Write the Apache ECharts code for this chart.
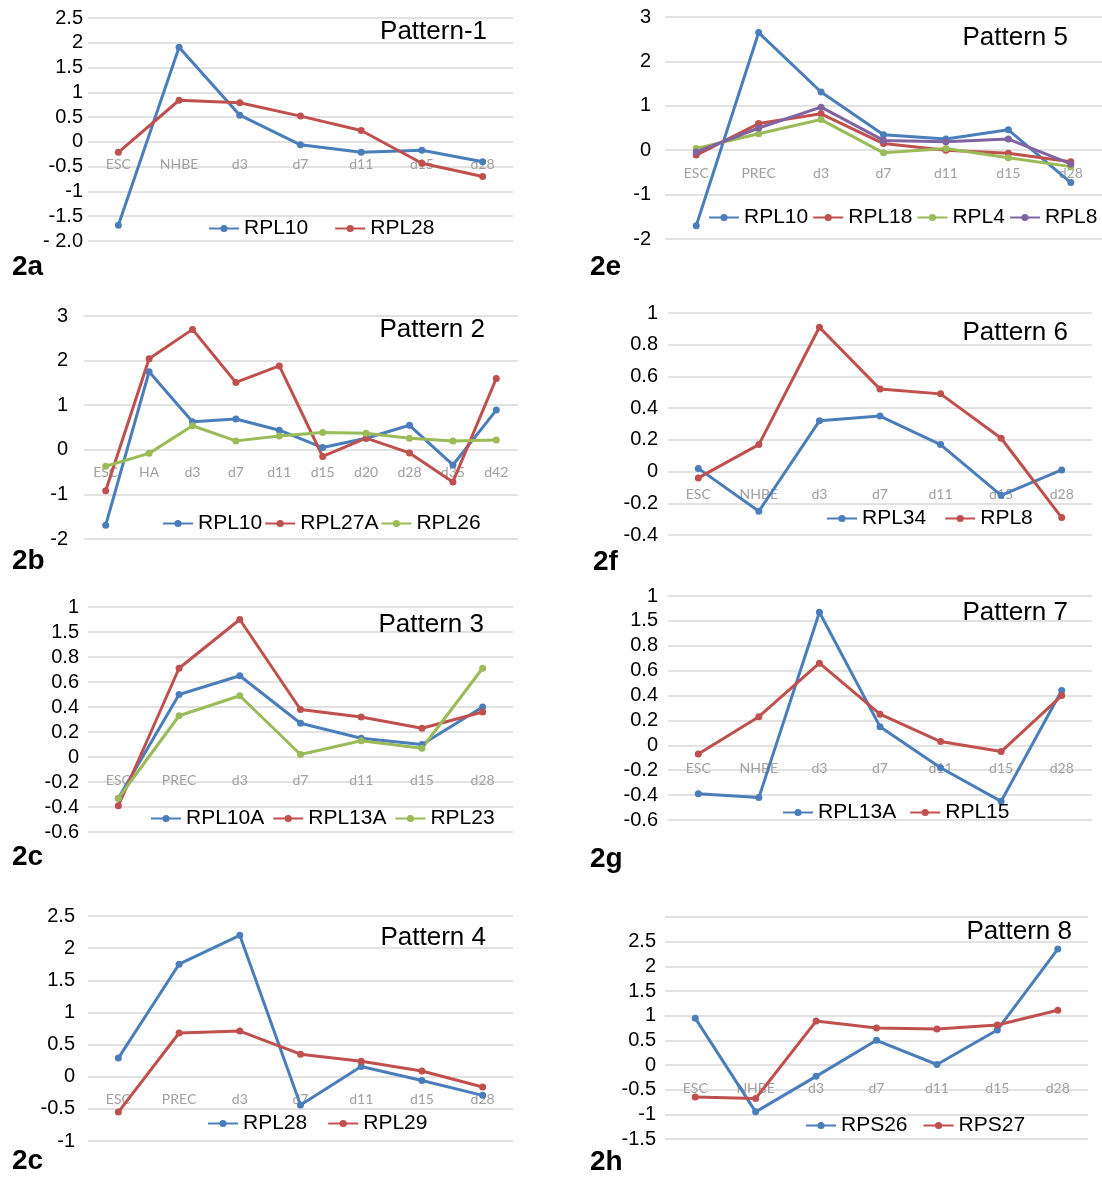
<!DOCTYPE html>
<html>
<head>
<meta charset="utf-8">
<script src="https://cdn.jsdelivr.net/npm/echarts@6/dist/echarts.min.js"></script>
<style>
  html, body { margin: 0; padding: 0; background: #fff; }
  #page { position: relative; width: 1102px; height: 1177px; }
  .panel { position: absolute; }
</style>
</head>
<body>
<div id="page"></div>
<script>
// ---- categories ----
const catsNhbe = ['ESC', 'NHBE', 'd3', 'd7', 'd11', 'd15', 'd28'];
const catsPrec = ['ESC', 'PREC', 'd3', 'd7', 'd11', 'd15', 'd28'];
const catsHa = ['ESC', 'HA', 'd3', 'd7', 'd11', 'd15', 'd20', 'd28', 'd35', 'd42'];

// ---- pattern 1 (2a) ----
const p1Rpl10 = [-1.68, 1.91, 0.54, -0.06, -0.21, -0.17, -0.40];
const p1Rpl28 = [-0.21, 0.84, 0.79, 0.52, 0.23, -0.43, -0.70];
const p1Ticks = ['2.5', '2', '1.5', '1', '0.5', '0', '-0.5', '-1', '-1.5', '- 2.0'];

// ---- pattern 2 (2b) ----
const p2Rpl10 = [-1.69, 1.75, 0.63, 0.69, 0.44, 0.05, 0.26, 0.55, -0.34, 0.89];
const p2Rpl27a = [-0.92, 2.04, 2.70, 1.51, 1.88, -0.15, 0.26, -0.07, -0.72, 1.60];
const p2Rpl26 = [-0.37, -0.08, 0.54, 0.20, 0.31, 0.39, 0.37, 0.26, 0.20, 0.22];
const p2Ticks = ['3', '2', '1', '0', '-1', '-2'];

// ---- pattern 3 (2c) ----
const p3Rpl10a = [-0.33, 0.50, 0.65, 0.27, 0.15, 0.10, 0.40];
const p3Rpl13a = [-0.39, 0.71, 1.10, 0.38, 0.32, 0.23, 0.36];
const p3Rpl23 = [-0.33, 0.33, 0.49, 0.02, 0.13, 0.07, 0.71];
const p3Ticks = ['1', '1.5', '0.8', '0.6', '0.4', '0.2', '0', '-0.2', '-0.4', '-0.6'];

// ---- pattern 4 (2c, lower) ----
const p4Rpl28 = [0.29, 1.75, 2.20, -0.44, 0.16, -0.06, -0.29];
const p4Rpl29 = [-0.55, 0.68, 0.71, 0.35, 0.24, 0.09, -0.16];
const p4Ticks = ['2.5', '2', '1.5', '1', '0.5', '0', '-0.5', '-1'];

// ---- pattern 5 (2e) ----
const p5Rpl10 = [-1.70, 2.65, 1.31, 0.35, 0.25, 0.46, -0.73];
const p5Rpl18 = [-0.11, 0.60, 0.82, 0.15, 0.00, -0.07, -0.26];
const p5Rpl4 = [0.04, 0.37, 0.69, -0.06, 0.04, -0.17, -0.37];
const p5Rpl8 = [-0.04, 0.50, 0.97, 0.22, 0.19, 0.25, -0.31];
const p5Ticks = ['3', '2', '1', '0', '-1', '-2'];

// ---- pattern 6 (2f) ----
const p6Rpl34 = [0.02, -0.25, 0.32, 0.35, 0.17, -0.15, 0.01];
const p6Rpl8 = [-0.04, 0.17, 0.91, 0.52, 0.49, 0.21, -0.29];
const p6Ticks = ['1', '0.8', '0.6', '0.4', '0.2', '0', '-0.2', '-0.4'];

// ---- pattern 7 (2g) ----
const p7Rpl13a = [-0.39, -0.42, 1.07, 0.15, -0.18, -0.45, 0.44];
const p7Rpl15 = [-0.07, 0.23, 0.66, 0.25, 0.03, -0.05, 0.40];
const p7Ticks = ['1', '1.5', '0.8', '0.6', '0.4', '0.2', '0', '-0.2', '-0.4', '-0.6'];

// ---- pattern 8 (2h) ----
const p8Rps26 = [0.95, -0.95, -0.23, 0.50, 0.01, 0.71, 2.35];
const p8Rps27 = [-0.65, -0.68, 0.89, 0.75, 0.73, 0.81, 1.11];
const p8Ticks = ['', '2.5', '2', '1.5', '1', '0.5', '0', '-0.5', '-1', '-1.5'];

const BLUE = '#4a7ebb';
const RED = '#c0504d';
const GREEN = '#9bbb59';
const PURPLE = '#8064a2';
const GRID_COLOR = '#e2e2e2';
const FONT = '"Liberation Sans", Arial, sans-serif';

// layout in page pixels: box = [x, y, w, h], plot = [left, top, right, bottom]
const panels = [
  {
    box: [0, 0, 551, 290], plot: [88, 18, 513, 241], min: -2, max: 2.5, step: 0.5,
    ticks: p1Ticks, labelMargin: 5, cats: catsNhbe,
    series: [['RPL10', p1Rpl10, BLUE], ['RPL28', p1Rpl28, RED]],
    title: 'Pattern-1', titleRight: 487, titleY: 31,
    legendX: 208, legendY: 230, legendGap: 26, tag: '2a', tagX: 12, tagY: 268
  },
  {
    box: [551, 0, 551, 290], plot: [665, 17, 1102, 239], min: -2, max: 3, step: 1,
    ticks: p5Ticks, labelMargin: 14, cats: catsPrec,
    series: [['RPL10', p5Rpl10, BLUE], ['RPL18', p5Rpl18, RED], ['RPL4', p5Rpl4, GREEN], ['RPL8', p5Rpl8, PURPLE]],
    title: 'Pattern 5', titleRight: 1068, titleY: 37,
    legendX: 708, legendY: 219, legendGap: 4, tag: '2e', tagX: 590, tagY: 268
  },
  {
    box: [0, 290, 551, 295], plot: [84, 316, 518, 539], min: -2, max: 3, step: 1,
    ticks: p2Ticks, labelMargin: 16, cats: catsHa,
    series: [['RPL10', p2Rpl10, BLUE], ['RPL27A', p2Rpl27a, RED], ['RPL26', p2Rpl26, GREEN]],
    title: 'Pattern 2', titleRight: 485, titleY: 329,
    legendX: 162, legendY: 525, legendGap: 2, tag: '2b', tagX: 12, tagY: 562
  },
  {
    box: [551, 290, 551, 295], plot: [668, 313, 1092, 535], min: -0.4, max: 1, step: 0.2,
    ticks: p6Ticks, labelMargin: 10, cats: catsNhbe,
    series: [['RPL34', p6Rpl34, BLUE], ['RPL8', p6Rpl8, RED]],
    title: 'Pattern 6', titleRight: 1068, titleY: 332,
    legendX: 826, legendY: 520, legendGap: 18, tag: '2f', tagX: 593, tagY: 563
  },
  {
    box: [0, 585, 551, 295], plot: [88, 607, 513, 832], min: -0.6, max: 1.2, step: 0.2,
    ticks: p3Ticks, labelMargin: 9, cats: catsPrec,
    series: [['RPL10A', p3Rpl10a, BLUE], ['RPL13A', p3Rpl13a, RED], ['RPL23', p3Rpl23, GREEN]],
    title: 'Pattern 3', titleRight: 484, titleY: 624,
    legendX: 150, legendY: 820, legendGap: 8, tag: '2c', tagX: 12, tagY: 858
  },
  {
    box: [551, 585, 551, 295], plot: [668, 596, 1092, 820], min: -0.6, max: 1.2, step: 0.2,
    ticks: p7Ticks, labelMargin: 10, cats: catsNhbe,
    series: [['RPL13A', p7Rpl13a, BLUE], ['RPL15', p7Rpl15, RED]],
    title: 'Pattern 7', titleRight: 1068, titleY: 612,
    legendX: 782, legendY: 814, legendGap: 13, tag: '2g', tagX: 590, tagY: 860
  },
  {
    box: [0, 880, 551, 297], plot: [88, 916, 513, 1141], min: -1, max: 2.5, step: 0.5,
    ticks: p4Ticks, labelMargin: 13, cats: catsPrec,
    series: [['RPL28', p4Rpl28, BLUE], ['RPL29', p4Rpl29, RED]],
    title: 'Pattern 4', titleRight: 486, titleY: 937,
    legendX: 207, legendY: 1125, legendGap: 20, tag: '2c', tagX: 12, tagY: 1162
  },
  {
    box: [551, 880, 551, 297], plot: [665, 917, 1088, 1139], min: -1.5, max: 3, step: 0.5,
    ticks: p8Ticks, labelMargin: 9, cats: catsNhbe,
    series: [['RPS26', p8Rps26, BLUE], ['RPS27', p8Rps27, RED]],
    title: 'Pattern 8', titleRight: 1072, titleY: 931,
    legendX: 805, legendY: 1127, legendGap: 15, tag: '2h', tagX: 590, tagY: 1163
  }
];

function buildOption(p) {
  const [bx, by, bw] = p.box;
  const [l, t, r, b] = p.plot;
  // category labels sit just under the zero line, like the Excel originals
  const zeroFromBottom = (0 - p.min) / (p.max - p.min) * (b - t);
  return {
    animation: false,
    textStyle: { fontFamily: FONT },
    title: [
      {
        text: p.title, right: bx + bw - p.titleRight, top: p.titleY - by - 12, padding: 0,
        textStyle: { fontSize: 26, fontWeight: 'normal', color: '#000', fontFamily: FONT }
      },
      {
        text: p.tag, left: p.tagX - bx, top: p.tagY - by - 15, padding: 0,
        textStyle: { fontSize: 28, fontWeight: 'bold', color: '#000', fontFamily: FONT }
      }
    ],
    legend: {
      left: p.legendX - bx, top: p.legendY - by - 12, padding: 0,
      itemWidth: 30, itemHeight: 9, itemGap: p.legendGap,
      textStyle: { fontSize: 21, color: '#000', fontFamily: FONT },
      data: p.series.map(s => s[0])
    },
    grid: { left: l - bx, top: t - by, width: r - l, height: b - t, containLabel: false },
    xAxis: {
      type: 'category', data: p.cats, boundaryGap: true,
      position: 'bottom', offset: -zeroFromBottom,
      axisLine: { show: false, onZero: false },
      axisTick: { show: false },
      axisLabel: { color: '#a0a0a0', fontSize: 14, margin: 16, fontFamily: 'Lato, sans-serif', interval: 0 }
    },
    yAxis: {
      type: 'value', min: p.min, max: p.max, interval: p.step,
      axisLine: { show: false }, axisTick: { show: false },
      splitLine: { show: true, lineStyle: { color: GRID_COLOR, width: 2 } },
      axisLabel: {
        color: '#000', fontSize: 20, margin: p.labelMargin, fontFamily: FONT,
        formatter: v => {
          const i = Math.round((p.max - v) / p.step);
          return p.ticks[i] !== undefined ? p.ticks[i] : '';
        }
      }
    },
    series: p.series.map(([name, values, color]) => ({
      name, type: 'line', data: values,
      symbol: 'circle', symbolSize: 7, showSymbol: true,
      lineStyle: { color, width: 3 },
      itemStyle: { color }
    }))
  };
}

const page = document.getElementById('page');
panels.forEach(p => {
  const div = document.createElement('div');
  div.className = 'panel';
  div.style.left = p.box[0] + 'px';
  div.style.top = p.box[1] + 'px';
  div.style.width = p.box[2] + 'px';
  div.style.height = p.box[3] + 'px';
  page.appendChild(div);
  const chart = echarts.init(div, null, { renderer: 'canvas' });
  chart.setOption(buildOption(p));
});
</script>
</body>
</html>
